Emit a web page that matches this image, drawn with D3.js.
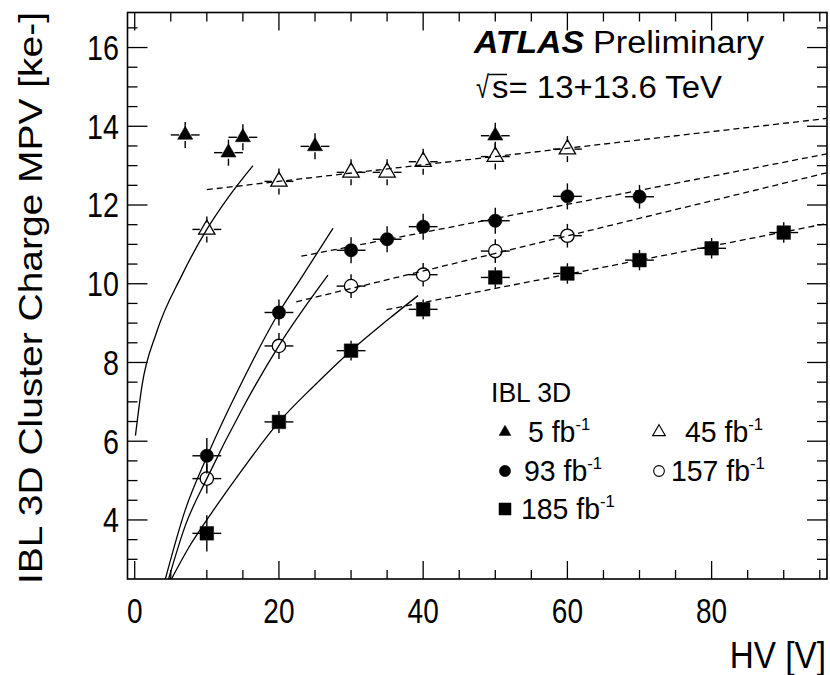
<!DOCTYPE html>
<html><head><meta charset="utf-8">
<script src="https://cdn.jsdelivr.net/npm/d3@7"></script>
<style>
body{margin:0;background:#fff}
svg{display:block}
text{font-family:"Liberation Sans",Arial,Helvetica,sans-serif;fill:#000}
</style>
</head><body>
<svg id="c" width="830" height="675"></svg>
<script>
// ---------------- data ----------------
const hv5 = [7, 13, 15, 25, 50];
const mpv5 = [13.78, 13.33, 13.72, 13.49, 13.76];
const err5 = [0.33, 0.33, 0.33, 0.33, 0.33];

const hv45 = [10, 20, 30, 35, 40, 50, 60];
const mpv45 = [11.38, 12.6, 12.83, 12.83, 13.1, 13.23, 13.42];
const err45 = [0.33, 0.33, 0.33, 0.33, 0.33, 0.33, 0.33];

const hv93 = [10, 20, 30, 35, 40, 50, 60, 70];
const mpv93 = [5.63, 9.27, 10.85, 11.13, 11.45, 11.6, 12.22, 12.21];
const err93 = [0.45, 0.33, 0.33, 0.33, 0.33, 0.33, 0.33, 0.3];

const hv157 = [10, 20, 30, 40, 50, 60];
const mpv157 = [5.05, 8.42, 9.94, 10.23, 10.83, 11.22];
const err157 = [0.38, 0.33, 0.3, 0.3, 0.3, 0.3];

const hv185 = [10, 20, 30, 40, 50, 60, 70, 80, 90];
const mpv185 = [3.66, 6.49, 8.3, 9.35, 10.16, 10.26, 10.6, 10.9, 11.3];
const err185 = [0.46, 0.28, 0.25, 0.25, 0.26, 0.26, 0.26, 0.26, 0.26];

const hvErr = 2; // horizontal error bar half-width [V]

// fit curves (HV, MPV)
const fit45Solid = [[0.1, 6.14], [1, 7.4], [3, 8.75], [6.5, 10.2], [10, 11.38], [13, 12.2], [16.4, 13.0]];
const fit93Solid = [[4.25, 2.5], [7, 4.25], [10, 5.6], [15, 7.55], [20, 9.27], [23.1, 10.15], [27.5, 11.41]];
const fit157Solid = [[4.7, 2.5], [7, 3.85], [10, 5.05], [15, 6.85], [20, 8.43], [26.8, 10.22]];
const fit185Solid = [[5.1, 2.5], [7.5, 3.3], [10, 4.0], [15, 5.3], [20, 6.49], [25, 7.43], [30, 8.3], [35, 9.07], [39.3, 9.7]];
const fit45Dash = [[10, 12.39], [96, 14.2]];
const fit93Dash = [[23.1, 10.7], [96, 13.3]];
const fit157Dash = [[22.4, 9.54], [96, 12.82]];
const fit185Dash = [[34.9, 9.34], [96, 11.53]];

const xMajorTicks = [0, 20, 40, 60, 80];
const yMajorTicks = [4, 6, 8, 10, 12, 14, 16];
const legendLabels = ["5", "45", "93", "157", "185"];

// ---------------- chart ----------------
const L = 127.5, R = 827, T = 12.5, B = 579;
const svg = d3.select("#c");
const x = d3.scaleLinear().domain([-1, 96]).range([L, R]);
const y = d3.scaleLinear().domain([2.5, 16.89]).range([B, T]);

svg.append("defs").append("clipPath").attr("id", "clip")
  .append("rect").attr("x", L).attr("y", T).attr("width", R - L).attr("height", B - T);

function squeeze(sel, ax, k) {
  return sel.attr("transform", `translate(${ax},0) scale(${k},1) translate(${-ax},0)`);
}

// ticks (all four sides)
const g = svg.append("g");
const xMinor = d3.range(0, 96, 5);
const yMinor = d3.range(3, 16.9, 0.5);
xMinor.forEach(v => {
  const len = xMajorTicks.includes(v) ? 18 : 9;
  g.append("line").attr("x1", x(v)).attr("x2", x(v)).attr("y1", B).attr("y2", B - len).attr("stroke", "#000").attr("stroke-width", 1.3);
  g.append("line").attr("x1", x(v)).attr("x2", x(v)).attr("y1", T).attr("y2", T + len).attr("stroke", "#000").attr("stroke-width", 1.3);
});
yMinor.forEach(v => {
  const len = yMajorTicks.includes(v) ? 20 : 10;
  g.append("line").attr("y1", y(v)).attr("y2", y(v)).attr("x1", L).attr("x2", L + len).attr("stroke", "#000").attr("stroke-width", 1.3);
  g.append("line").attr("y1", y(v)).attr("y2", y(v)).attr("x1", R).attr("x2", R - len).attr("stroke", "#000").attr("stroke-width", 1.3);
});
svg.append("rect").attr("x", L).attr("y", T).attr("width", R - L).attr("height", B - T)
  .attr("fill", "none").attr("stroke", "#000").attr("stroke-width", 1.6);

// tick labels
xMajorTicks.forEach(v => {
  squeeze(svg.append("text").attr("x", x(v)).attr("y", 623).attr("text-anchor", "middle")
    .attr("font-size", 35).text(v), x(v), 0.8);
});
yMajorTicks.forEach(v => {
  squeeze(svg.append("text").attr("x", 119).attr("y", y(v) + 12.5).attr("text-anchor", "end")
    .attr("font-size", 35).text(v), 119, 0.82);
});

// axis titles
squeeze(svg.append("text").attr("x", 826).attr("y", 668).attr("text-anchor", "end").attr("font-size", 37)
  .text("HV [V]"), 826, 0.9);
svg.append("text").attr("transform", "translate(42,298) rotate(-90)").attr("text-anchor", "middle")
  .attr("font-size", 33).attr("textLength", 572).attr("lengthAdjust", "spacingAndGlyphs")
  .text("IBL 3D Cluster Charge MPV [ke-]");

// ATLAS label
svg.append("text").attr("x", 474).attr("y", 53).attr("font-size", 31).attr("font-weight", "bold").attr("font-style", "italic")
  .attr("textLength", 110).attr("lengthAdjust", "spacingAndGlyphs").text("ATLAS");
svg.append("text").attr("x", 593).attr("y", 53).attr("font-size", 31)
  .attr("textLength", 171).attr("lengthAdjust", "spacingAndGlyphs").text("Preliminary");
svg.append("text").attr("x", 476).attr("y", 98).attr("font-size", 31)
  .attr("textLength", 13).attr("lengthAdjust", "spacingAndGlyphs").text("\u221A");
svg.append("text").attr("x", 492).attr("y", 98).attr("font-size", 31)
  .attr("textLength", 230).attr("lengthAdjust", "spacingAndGlyphs").text("s= 13+13.6 TeV");
svg.append("line").attr("x1", 488.5).attr("x2", 507).attr("y1", 74.5).attr("y2", 74.5).attr("stroke", "#000").attr("stroke-width", 1.5);

// fit lines
const line = d3.line().x(d => x(d[0])).y(d => y(d[1]));
const curve = d3.line().x(d => x(d[0])).y(d => y(d[1])).curve(d3.curveMonotoneX);
const fits = svg.append("g").attr("clip-path", "url(#clip)");
[fit45Solid, fit93Solid, fit157Solid, fit185Solid].forEach(p =>
  fits.append("path").attr("d", curve(p)).attr("fill", "none").attr("stroke", "#000").attr("stroke-width", 1.3));
[fit45Dash, fit93Dash, fit157Dash, fit185Dash].forEach(p =>
  fits.append("path").attr("d", line(p)).attr("fill", "none").attr("stroke", "#000").attr("stroke-width", 1.3).attr("stroke-dasharray", "6,4"));

// data series
const series = [
  {hv: hv5, v: mpv5, e: err5, type: d3.symbolTriangle, size: 100, fill: "#000", gap: 6},
  {hv: hv45, v: mpv45, e: err45, type: d3.symbolTriangle, size: 115, fill: "none", gap: 7},
  {hv: hv93, v: mpv93, e: err93, type: d3.symbolCircle, size: 140, fill: "#000", gap: 6.5},
  {hv: hv157, v: mpv157, e: err157, type: d3.symbolCircle, size: 140, fill: "none", gap: 6.5},
  {hv: hv185, v: mpv185, e: err185, type: d3.symbolSquare, size: 185, fill: "#000", gap: 6.8},
];
const pts = svg.append("g");
series.forEach(s => {
  s.hv.forEach((h, i) => {
    const cx = x(h), cy = y(s.v[i]);
    const gx1 = x(h - hvErr), gx2 = x(h + hvErr), gy1 = y(s.v[i] + s.e[i]), gy2 = y(s.v[i] - s.e[i]);
    const gap = s.gap;
    [[gx1, cy, cx - gap, cy], [cx + gap, cy, gx2, cy], [cx, gy1, cx, cy - gap], [cx, cy + gap, cx, gy2]].forEach(a =>
      pts.append("line").attr("x1", a[0]).attr("y1", a[1]).attr("x2", a[2]).attr("y2", a[3]).attr("stroke", "#000").attr("stroke-width", 1.4));
    pts.append("path").attr("d", d3.symbol().type(s.type).size(s.size)())
      .attr("transform", `translate(${cx},${cy})`)
      .attr("fill", s.fill).attr("stroke", "#000").attr("stroke-width", s.fill === "none" ? 1.3 : 0.5);
  });
});

// legend
const lg = svg.append("g");
squeeze(lg.append("text").attr("x", 491).attr("y", 402).attr("font-size", 28).text("IBL 3D"), 491, 0.95);
const legendItems = [
  {mx: 505, my: 432, tx: 528, ty: 442, s: series[0], sz: 60},
  {mx: 659, my: 432, tx: 685, ty: 442, s: series[1], sz: 70},
  {mx: 505, my: 471, tx: 524, ty: 481, s: series[2], sz: 100},
  {mx: 659, my: 471, tx: 671, ty: 481, s: series[3], sz: 90},
  {mx: 505, my: 509, tx: 521, ty: 519, s: series[4], sz: 145},
];
legendItems.forEach((it, k) => {
  lg.append("path").attr("d", d3.symbol().type(it.s.type).size(it.sz)())
    .attr("transform", `translate(${it.mx},${it.my})`)
    .attr("fill", it.s.fill).attr("stroke", "#000").attr("stroke-width", it.s.fill === "none" ? 1.1 : 0.5);
  const t = squeeze(lg.append("text").attr("x", it.tx).attr("y", it.ty).attr("font-size", 29), it.tx, 0.98);
  t.append("tspan").text(legendLabels[k] + " fb");
  t.append("tspan").attr("font-size", 17).attr("dy", -12).text("-1");
});
</script>
</body></html>
